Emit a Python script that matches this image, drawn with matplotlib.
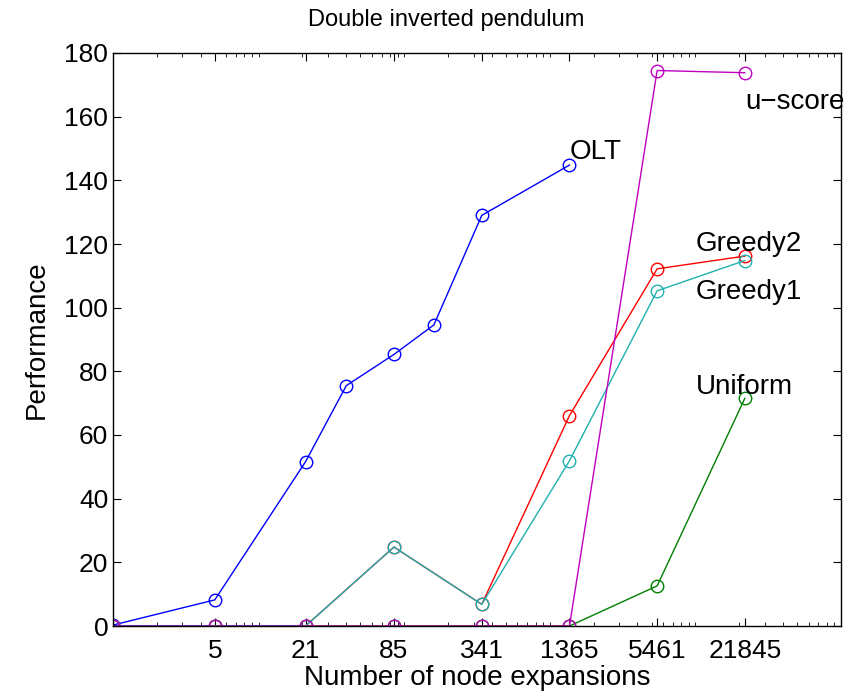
import matplotlib.pyplot as plt
from matplotlib.ticker import FixedLocator, LogLocator, NullFormatter

plt.rcParams['font.family'] = ['Liberation Sans', 'DejaVu Sans']

# DATA
x_olt = [1, 5, 21, 40, 85, 160, 341, 1365]
olt = [0.3, 8.2, 51.6, 75.5, 85.3, 94.6, 129.0, 144.8]

x_all = [1, 5, 21, 85, 341, 1365, 5461, 21845]
greedy2 = [0, 0, 0, 24.8, 6.8, 66.1, 112.2, 116.2]
greedy1 = [0, 0, 0, 24.8, 6.8, 51.9, 105.3, 114.8]
uniform = [0, 0, 0, 0, 0, 0, 12.6, 71.5]
uscore = [0, 0, 0, 0, 0, 0, 174.5, 173.8]

xticks = [5, 21, 85, 341, 1365, 5461, 21845]
yticks = list(range(0, 181, 20))

# label positions (data coords)
labels = [
    ("OLT", 1365, 149),
    ("u\u2212score", 21845, 164.6),
    ("Greedy2", 10000, 120),
    ("Greedy1", 10000, 105),
    ("Uniform", 10000, 75),
]

fig = plt.figure(figsize=(8.65, 6.96), dpi=100)
ax = fig.add_axes([113 / 865, 70 / 696, 728 / 865, 573 / 696])

style = dict(marker="o", markersize=9, markerfacecolor="none", linewidth=1.0, markeredgewidth=1.0)
ax.plot(x_olt, olt, color="#0000FF", **style)
ax.plot(x_all, greedy2, color="#FF0000", **style)
ax.plot(x_all, uniform, color="#008000", **style)
ax.plot(x_all, greedy1, color="#20B0B0", **style)
ax.plot(x_all, uscore, color="#BF00BF", **style)

for txt, xx, yy in labels:
    ax.text(xx, yy, txt, fontsize=20, ha="left", va="center")

ax.set_xscale("log")
ax.set_xlim(1, 1e5)
ax.set_ylim(0, 180)
ax.xaxis.set_major_locator(FixedLocator(xticks))
ax.set_xticklabels([str(t) for t in xticks])
ax.xaxis.set_minor_locator(LogLocator(base=10, subs=range(1, 10)))
ax.xaxis.set_minor_formatter(NullFormatter())
ax.set_yticks(yticks)

ax.tick_params(which="both", direction="in", top=True, right=True, labelsize=19)
ax.tick_params(axis="x", which="major", pad=9)
ax.tick_params(which="major", length=6)
ax.tick_params(which="minor", length=3)
for s in ax.spines.values():
    s.set_linewidth(1.0)

fig.text(446 / 865, 1 - 20 / 696, "Double inverted pendulum", fontsize=17, ha="center", va="center")
ax.set_xlabel("Number of node expansions", fontsize=20, labelpad=2)
ax.set_ylabel("Performance", fontsize=20, labelpad=10)

fig.savefig("out.png", dpi=100)
